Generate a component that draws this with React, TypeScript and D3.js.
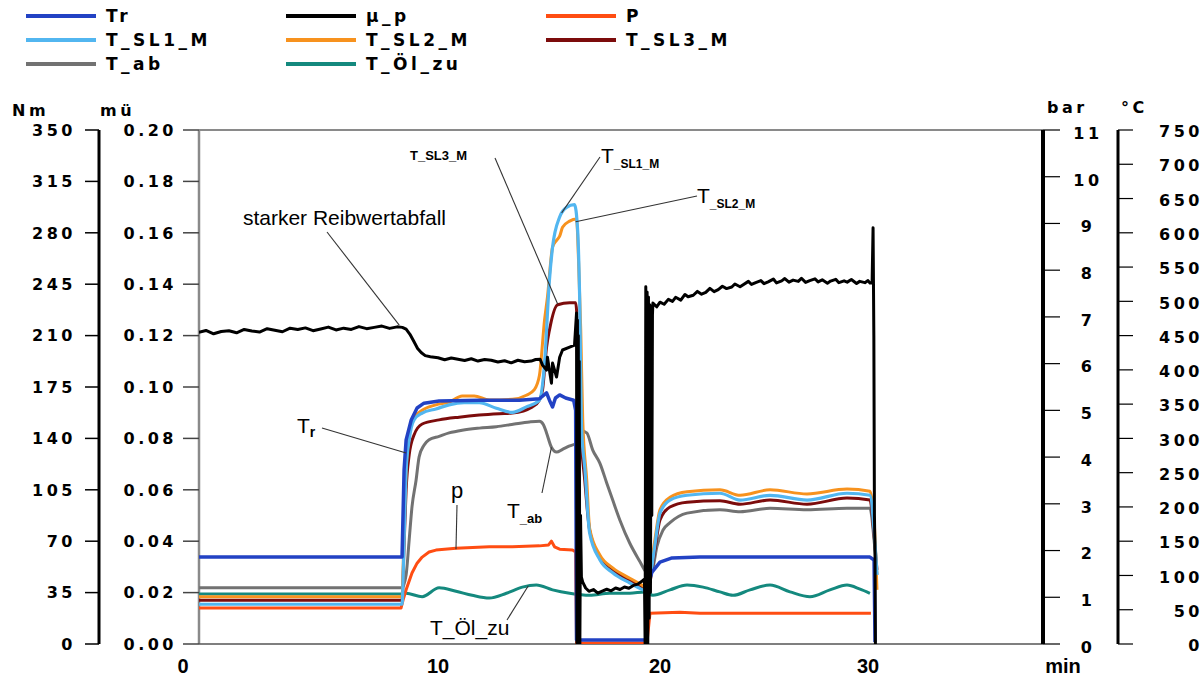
import React from "react";
import * as d3 from "d3";

type Pt = [number, number];

// ---- data (time in min, values in the unit of the series' own axis) ----

// Tr torque, Nm
const trData: Pt[] = [
  [0.62, 59.2], [8.59, 59.2], [8.67, 118.5], [8.75, 139], [8.95, 152.5], [9.18, 160.7],
  [9.45, 164], [10.05, 165.5], [11.86, 166], [13.67, 166], [14.57, 167], [14.89, 171],
  [15.02, 166], [15.16, 161.4], [15.29, 167.5], [15.48, 169.6], [15.75, 167.5], [16.11, 166],
  [16.2, 159], [16.24, 2.7], [19.37, 2.7], [19.46, 40.2], [19.64, 49], [20.0, 55.8],
  [20.58, 58.6], [21.92, 59.2], [30.1, 59.2], [30.31, 57.2], [30.36, 1.4],
];

// mu_p friction coefficient
const muData: Pt[] = [
  [0.62, 0.1213], [0.9, 0.122], [1.2, 0.1207], [1.5, 0.1216], [1.8, 0.1219], [2.1, 0.1211],
  [2.4, 0.1224], [2.7, 0.1218], [3.0, 0.1214], [3.3, 0.1227], [3.6, 0.1221], [3.9, 0.1215],
  [4.2, 0.1229], [4.5, 0.1224], [4.8, 0.123], [5.1, 0.1219], [5.4, 0.1226], [5.7, 0.1233],
  [6.0, 0.1222], [6.3, 0.1229], [6.6, 0.1224], [6.9, 0.1235], [7.2, 0.1227], [7.5, 0.1232],
  [7.8, 0.1237], [8.1, 0.1228], [8.4, 0.1234], [8.6, 0.1232], [8.75, 0.1225], [8.9, 0.1205],
  [9.05, 0.1178], [9.2, 0.115], [9.35, 0.1133], [9.5, 0.1122], [9.7, 0.1118], [10.0, 0.1114],
  [10.3, 0.1106], [10.6, 0.1113], [10.9, 0.1108], [11.2, 0.1103], [11.5, 0.111], [11.8, 0.1101],
  [12.1, 0.1107], [12.4, 0.1104], [12.7, 0.1097], [13.0, 0.1102], [13.3, 0.1094], [13.6, 0.1104],
  [13.9, 0.1098], [14.2, 0.1101], [14.4, 0.1107], [14.6, 0.1108],
  [14.71, 0.1085], [14.89, 0.1066], [14.93, 0.1116], [15.11, 0.1015], [15.16, 0.1093],
  [15.34, 0.1039], [15.48, 0.1116], [15.61, 0.1144], [15.93, 0.1155], [16.15, 0.1163],
  [16.24, 0.1288], [16.26, 0.0], [16.28, 0.126], [16.3, 0.0], [16.32, 0.12], [16.34, 0.0],
  [16.36, 0.11], [16.39, 0.0], [16.42, 0.05], [16.46, 0.026], [16.52, 0.0241], [16.65, 0.0218],
  [16.8, 0.0205], [17.0, 0.0212], [17.2, 0.0198], [17.4, 0.0206], [17.6, 0.0213], [17.8, 0.0207],
  [18.0, 0.0218], [18.2, 0.0212], [18.4, 0.0222], [18.6, 0.0217], [18.8, 0.0228], [19.0, 0.0233],
  [19.2, 0.0245], [19.3, 0.0252], [19.33, 0.0], [19.36, 0.139], [19.39, 0.0], [19.42, 0.137],
  [19.45, 0.0], [19.48, 0.135], [19.51, 0.01], [19.54, 0.132], [19.57, 0.02], [19.6, 0.13],
  [19.63, 0.05], [19.66, 0.128], [19.68, 0.1327], [19.85, 0.1312], [20.0, 0.133], [20.2, 0.1322],
  [20.4, 0.1341], [20.6, 0.1333], [20.75, 0.1349], [21.0, 0.1338], [21.2, 0.136], [21.35, 0.1351],
  [21.6, 0.1357], [21.8, 0.1372], [22.0, 0.1361], [22.2, 0.1368], [22.4, 0.1384], [22.6, 0.1371],
  [22.8, 0.1379], [23.0, 0.1392], [23.2, 0.1383], [23.45, 0.1389], [23.6, 0.1401], [23.85, 0.139],
  [24.0, 0.1398], [24.25, 0.1411], [24.4, 0.1399], [24.6, 0.1406], [24.85, 0.1414], [25.0, 0.1402],
  [25.2, 0.1409], [25.45, 0.142], [25.6, 0.1405], [25.85, 0.1413], [26.0, 0.1422], [26.2, 0.1408],
  [26.4, 0.1416], [26.65, 0.1411], [26.8, 0.1423], [27.0, 0.1407], [27.2, 0.1414], [27.45, 0.1421],
  [27.6, 0.1409], [27.8, 0.1417], [28.05, 0.1404], [28.2, 0.1412], [28.45, 0.1419], [28.6, 0.1406],
  [28.85, 0.1413], [29.0, 0.1408], [29.2, 0.1418], [29.45, 0.1403], [29.6, 0.1411], [29.85, 0.1406],
  [30.0, 0.1414], [30.1, 0.1405], [30.21, 0.1405], [30.26, 0.162], [30.3, 0.12], [30.33, 0.05],
  [30.36, 0.035], [30.38, 0.0],
];

// p pressure, bar
const pData: Pt[] = [
  [0.62, 0.77], [8.55, 0.77], [8.63, 0.94], [8.75, 1.16], [8.98, 1.52], [9.18, 1.73],
  [9.38, 1.86], [9.65, 1.97], [9.92, 2.01], [10.81, 2.05], [12.31, 2.08], [13.35, 2.08],
  [14.57, 2.1], [14.98, 2.12], [15.11, 2.2], [15.25, 2.08], [15.48, 2.03], [16.06, 2.01],
  [16.2, 1.97], [16.24, 0.02], [19.41, 0.02], [19.55, 0.66], [20.96, 0.68], [21.92, 0.66],
  [30.1, 0.66], [30.15, 0.66],
];

// temperatures, °C
const tSl1Data: Pt[] = [
  [0.62, 58], [8.59, 58], [8.67, 152], [8.75, 254], [8.87, 298], [9.06, 327], [9.38, 337],
  [9.92, 343], [10.5, 349], [11.18, 352], [11.86, 352], [12.63, 344], [13.35, 338], [13.98, 346],
  [14.57, 356], [14.8, 410], [15.02, 531], [15.16, 579], [15.48, 623], [15.79, 637], [16.15, 641],
  [16.29, 604], [16.38, 506], [16.47, 312], [16.61, 258], [16.83, 162], [17.29, 123], [17.87, 104],
  [18.64, 89], [19.23, 79], [19.46, 76], [19.55, 93], [19.77, 144], [20.0, 191], [20.48, 210],
  [21.3, 217], [22.88, 220], [23.85, 210], [25.29, 217], [27.07, 210], [28.99, 220], [30.1, 217],
  [30.31, 166], [30.46, 101],
];

const tSl2Data: Pt[] = [
  [0.62, 69], [8.59, 69], [8.67, 166], [8.75, 254], [8.87, 305], [9.06, 330], [9.38, 341],
  [9.92, 349], [10.5, 353], [11.09, 362], [11.63, 362], [12.31, 356], [13.35, 357], [13.98, 363],
  [14.34, 371], [14.57, 392], [14.8, 473], [14.93, 506], [15.16, 579], [15.34, 589], [15.48, 595],
  [15.61, 608], [15.93, 617], [16.24, 620], [16.33, 560], [16.43, 458], [16.52, 327], [16.7, 239],
  [16.83, 169], [17.29, 130], [17.87, 111], [18.64, 96], [19.23, 85], [19.46, 79], [19.55, 101],
  [19.77, 152], [20.0, 196], [20.48, 214], [21.3, 222], [22.88, 225], [23.85, 217], [25.29, 225],
  [27.07, 219], [28.99, 226], [30.1, 223], [30.31, 181], [30.46, 79],
];

const tSl3Data: Pt[] = [
  [0.62, 64], [8.59, 64], [8.67, 144], [8.75, 225], [8.87, 276], [9.06, 305], [9.38, 321],
  [10.05, 327], [10.95, 331], [11.86, 334], [12.76, 336], [13.35, 337], [14.25, 346], [14.57, 356],
  [14.71, 371], [14.89, 433], [15.02, 458], [15.39, 495], [15.93, 498], [16.2, 498], [16.29, 458],
  [16.43, 312], [16.61, 239], [16.83, 166], [17.29, 127], [17.87, 108], [18.64, 93], [19.23, 82],
  [19.46, 77], [19.55, 90], [19.77, 137], [20.0, 181], [20.48, 200], [21.3, 207], [22.88, 209],
  [23.85, 204], [25.29, 210], [27.07, 204], [28.99, 213], [30.1, 210], [30.31, 159], [30.46, 108],
];

const tAbData: Pt[] = [
  [0.62, 82], [8.59, 82], [8.75, 101], [8.87, 152], [8.98, 200], [9.14, 239], [9.26, 273],
  [9.45, 290], [9.65, 298], [10.05, 303], [10.5, 308], [11.09, 312], [11.86, 315], [12.63, 317],
  [13.44, 321], [14.12, 324], [14.57, 325], [14.75, 320], [14.89, 308], [15.11, 287], [15.34, 280],
  [15.61, 284], [15.93, 289], [16.24, 293], [16.38, 312], [16.7, 308], [16.97, 283], [17.29, 264],
  [17.6, 235], [17.87, 210], [18.19, 181], [18.64, 147], [19.1, 120], [19.37, 105], [19.55, 101],
  [19.68, 111], [19.86, 142], [20.14, 166], [20.48, 177], [21.3, 191], [22.88, 196], [23.85, 193],
  [25.29, 198], [27.07, 196], [28.99, 198], [30.1, 198], [30.31, 152], [30.46, 101],
];

const tOelData: Pt[] = [
  [0.62, 73], [8.59, 73], [8.75, 74], [9.38, 69], [10.05, 82], [10.81, 77], [11.54, 71],
  [12.31, 67], [13.08, 74], [13.8, 83], [14.43, 86], [15.16, 79], [15.93, 74], [16.83, 71],
  [17.74, 74], [18.64, 74], [19.32, 76], [19.68, 71], [20.48, 79], [21.3, 86], [22.07, 83],
  [22.88, 76], [23.51, 71], [24.33, 79], [25.29, 86], [26.25, 76], [27.21, 69], [28.17, 79],
  [28.99, 86], [29.62, 80], [30.1, 74],
];

// axes
const timeLabels = [0, 10, 20, 30];
const nmTicks = d3.range(0, 351, 35);
const muTicks = d3.range(0, 0.2001, 0.02);
const barTicks = d3.range(0, 12, 1);
const degTicks = d3.range(0, 751, 50);

const legendNames = ["Tr", "μ_p", "P", "T_SL1_M", "T_SL2_M", "T_SL3_M", "T_ab", "T_Öl_zu"];
const legendColors = ["#2242c4", "#000000", "#ff4d12", "#52b6f0", "#f7921e", "#7c0c0c", "#727272", "#14897e"];

// ---- layout ----
const W = 1204;
const H = 676;
const plot = { left: 199, right: 1043, top: 130, bottom: 644 };

const x = d3.scaleLinear().domain([0, 10, 20, 30, 40]).range([183, 438, 660, 868, 1063]);
const yNm = d3.scaleLinear().domain([0, 350]).range([plot.bottom, plot.top]);
const yMu = d3.scaleLinear().domain([0, 0.2]).range([plot.bottom, plot.top]);
const yBar = d3.scaleLinear().domain([0, 11]).range([plot.bottom, plot.top]);
const yDeg = d3.scaleLinear().domain([0, 750]).range([plot.bottom, plot.top]);

function path(data: Pt[], y: d3.ScaleLinear<number, number>, smooth = false) {
  const gen = d3.line<Pt>().x(d => x(d[0])).y(d => y(d[1]));
  if (smooth) gen.curve(d3.curveMonotoneX);
  return gen(data) || "";
}

const axisFont = { fontFamily: "DejaVu Sans", fontWeight: 700, fontSize: 16, letterSpacing: 3.5 };
const noteFont = "Liberation Sans, Arial, sans-serif";

function Annotation(props: { x1: number; y1: number; x2: number; y2: number }) {
  return <line x1={props.x1} y1={props.y1} x2={props.x2} y2={props.y2} stroke="#333" strokeWidth={1.1} />;
}

export default function App() {
  const series = [
    { d: tOelData, y: yDeg, c: legendColors[7], w: 3, s: true },
    { d: tAbData, y: yDeg, c: legendColors[6], w: 3, s: true },
    { d: pData, y: yBar, c: legendColors[2], w: 3, s: false },
    { d: tSl3Data, y: yDeg, c: legendColors[5], w: 3, s: true },
    { d: tSl2Data, y: yDeg, c: legendColors[4], w: 3, s: true },
    { d: tSl1Data, y: yDeg, c: legendColors[3], w: 3.2, s: true },
    { d: trData, y: yNm, c: legendColors[0], w: 3.5, s: false },
    { d: muData, y: yMu, c: legendColors[1], w: 3, s: false },
  ];

  return (
    <svg width={W} height={H} style={{ position: "absolute", left: 0, top: 0, background: "#fff" }}>
      <defs>
        <clipPath id="plotClip">
          <rect x={plot.left} y={plot.top - 2} width={plot.right - plot.left} height={plot.bottom - plot.top + 2} />
        </clipPath>
      </defs>

      {/* legend */}
      {legendNames.map((name, i) => {
        const col = i % 3;
        const row = Math.floor(i / 3);
        const lx = 26 + col * 260;
        const ly = 16 + row * 24;
        return (
          <g key={name}>
            <line x1={lx} x2={lx + 70} y1={ly} y2={ly} stroke={legendColors[i]} strokeWidth={4} />
            <text x={lx + 80} y={ly + 6} fontFamily="DejaVu Sans" fontWeight={700} fontSize={17} letterSpacing={3.5}>
              {name}
            </text>
          </g>
        );
      })}

      {/* frame */}
      <line x1={plot.left} x2={plot.right} y1={plot.top} y2={plot.top} stroke="#8a8a8a" strokeWidth={2} />
      <line x1={plot.left} x2={plot.left} y1={plot.top} y2={plot.bottom} stroke="#8a8a8a" strokeWidth={2.5} />
      <line x1={plot.left} x2={plot.right} y1={plot.bottom} y2={plot.bottom} stroke="#555" strokeWidth={1.5} />

      {/* Nm axis */}
      <line x1={99} x2={99} y1={plot.top} y2={plot.bottom} stroke="#000" strokeWidth={3} />
      {nmTicks.map(v => (
        <g key={"nm" + v}>
          <line x1={85} x2={99} y1={yNm(v)} y2={yNm(v)} stroke="#000" strokeWidth={1.5} />
          <text x={76} y={yNm(v)} dy="0.36em" textAnchor="end" {...axisFont}>{v}</text>
        </g>
      ))}
      <text x={12} y={116} {...axisFont}>Nm</text>

      {/* mu axis */}
      {muTicks.map(v => (
        <g key={"mu" + v}>
          <line x1={183} x2={plot.left} y1={yMu(v)} y2={yMu(v)} stroke="#444" strokeWidth={1.5} />
          <text x={177} y={yMu(v)} dy="0.36em" textAnchor="end" {...axisFont}>{d3.format(".2f")(v)}</text>
        </g>
      ))}
      <text x={100} y={116} {...axisFont}>mü</text>

      {/* bar axis */}
      <line x1={plot.right} x2={plot.right} y1={plot.top} y2={plot.bottom} stroke="#000" strokeWidth={4} />
      {barTicks.map(v => (
        <g key={"bar" + v}>
          <line x1={plot.right} x2={1060} y1={yBar(v)} y2={yBar(v)} stroke="#000" strokeWidth={1.2} />
          <text x={1088} y={yBar(v)} dy="0.55em" textAnchor="middle" {...axisFont}>{v}</text>
        </g>
      ))}
      <text x={1047} y={113} {...axisFont}>bar</text>

      {/* degC axis */}
      <line x1={1118} x2={1118} y1={plot.top} y2={plot.bottom} stroke="#000" strokeWidth={3} />
      {degTicks.map(v => (
        <g key={"deg" + v}>
          <line x1={1118} x2={1133} y1={yDeg(v)} y2={yDeg(v)} stroke="#000" strokeWidth={1.2} />
          <text x={1203} y={yDeg(v)} dy="0.45em" textAnchor="end" {...axisFont}>{v}</text>
        </g>
      ))}
      <text x={1121} y={113} {...axisFont}>°C</text>

      {/* time axis labels */}
      {timeLabels.map(v => (
        <text key={"t" + v} x={x(v)} y={673} textAnchor="middle" fontFamily={noteFont} fontWeight={700} fontSize={20}>
          {v}
        </text>
      ))}
      <text x={x(40)} y={673} textAnchor="middle" fontFamily={noteFont} fontWeight={700} fontSize={20}>min</text>

      {/* series */}
      <g clipPath="url(#plotClip)">
        {series.map((s, i) => (
          <path key={i} d={path(s.d, s.y, s.s)} fill="none" stroke={s.c} strokeWidth={s.w} strokeLinejoin="round" />
        ))}
      </g>

      {/* annotations */}
      <g fontFamily={noteFont}>
        <Annotation x1={327} y1={232} x2={x(8.48)} y2={yMu(0.1241)} />
        <text x={446} y={225} textAnchor="end" fontSize={21}>starker Reibwertabfall</text>

        <Annotation x1={322} y1={428} x2={x(8.75)} y2={yNm(130)} />
        <text x={297} y={433} fontSize={21}>T<tspan fontSize={14} fontWeight={700} dy={4}>r</tspan></text>

        <Annotation x1={495} y1={158} x2={x(15.39)} y2={yDeg(496)} />
        <text x={410} y={160} fontSize={13} fontWeight={700}>T_SL3_M</text>

        <Annotation x1={600} y1={157} x2={x(15.57)} y2={yDeg(629)} />
        <text x={601} y={163} fontSize={21}>T<tspan fontSize={12} fontWeight={700} dy={5}>_SL1_M</tspan></text>

        <Annotation x1={697} y1={196} x2={x(16.2)} y2={yDeg(616)} />
        <text x={697} y={203} fontSize={21}>T<tspan fontSize={12} fontWeight={700} dy={5}>_SL2_M</tspan></text>

        <Annotation x1={457} y1={505} x2={x(10.81)} y2={yBar(2.03)} />
        <text x={451} y={498} fontSize={22}>p</text>

        <Annotation x1={542} y1={493} x2={x(15.11)} y2={yDeg(287)} />
        <text x={507} y={518} fontSize={21}>T<tspan fontSize={13} fontWeight={700} dy={5}>_ab</tspan></text>

        <Annotation x1={507} y1={620} x2={x(14.07)} y2={yDeg(85)} />
        <text x={430} y={635} fontSize={21}>T_Öl_zu</text>
      </g>
    </svg>
  );
}
